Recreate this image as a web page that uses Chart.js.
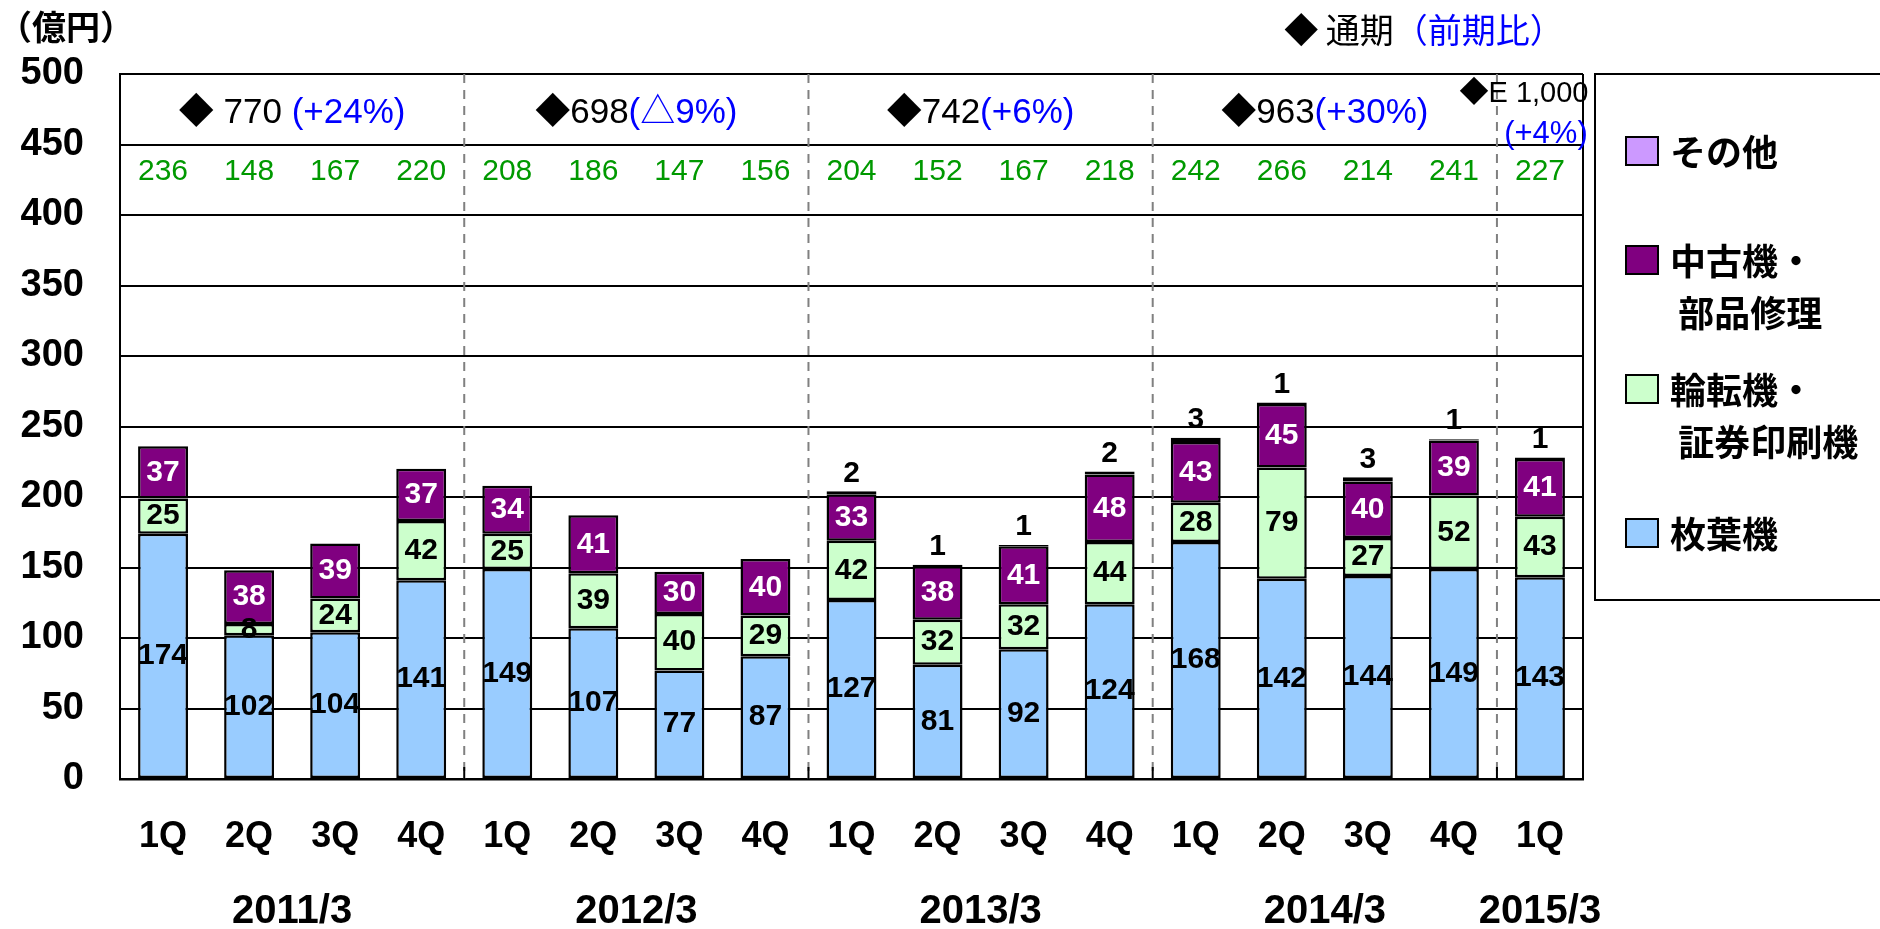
<!DOCTYPE html>
<html lang="ja">
<head>
<meta charset="utf-8">
<title>売上高推移</title>
<script src="https://cdn.jsdelivr.net/npm/chart.js@4.4.1/dist/chart.umd.min.js"></script>
<style>
    html, body { margin: 0; padding: 0; background: #fff; }
    #wrap { width: 1880px; height: 929px; position: relative; }
</style>
</head>
<body>
<div id="wrap"><canvas id="salesChart"></canvas></div>
<script>
// ============================================
// DATA
// ============================================
const quarterLabels = ['1Q', '2Q', '3Q', '4Q', '1Q', '2Q', '3Q', '4Q', '1Q', '2Q', '3Q', '4Q', '1Q', '2Q', '3Q', '4Q', '1Q'];
const fiscalYears = ['2011/3', '2012/3', '2013/3', '2014/3', '2015/3'];
const quartersPerYear = [4, 4, 4, 4, 1];

const sheetFed = [174, 102, 104, 141, 149, 107, 77, 87, 127, 81, 92, 124, 168, 142, 144, 149, 143];
const webPress = [25, 8, 24, 42, 25, 39, 40, 29, 42, 32, 32, 44, 28, 79, 27, 52, 43];
const usedParts = [37, 38, 39, 37, 34, 41, 30, 40, 33, 38, 41, 48, 43, 45, 40, 39, 41];
const others = [0, 0, 0, 0, 0, 0, 0, 0, 2, 1, 1, 2, 3, 1, 3, 1, 1];

const quarterTotals = [236, 148, 167, 220, 208, 186, 147, 156, 204, 152, 167, 218, 242, 266, 214, 241, 227];
const annualTotals = [' 770 ', '698', '742', '963', 'E 1,000'];
const annualChange = ['(+24%)', '(△9%)', '(+6%)', '(+30%)', '(+4%)'];

const yMin = 0, yMax = 500, yStep = 50;

const seriesNames = [['枚葉機'], ['輪転機・', ' 証券印刷機'], ['中古機・', ' 部品修理'], ['その他']];

// ============================================
// STYLE
// ============================================
const FONT = '"Liberation Sans", "Noto Sans CJK JP", sans-serif';
const JP_FONT = '"Noto Sans CJK JP", "Liberation Sans", sans-serif';
const BLUE = '#0000ff';
const GREEN = '#009900';

function groupRanges() {
    let start = 0;
    return quartersPerYear.map(n => {
        const r = { from: start, to: start + n - 1 };
        start += n;
        return r;
    });
}

// draw text pieces of different colours side by side, centred on cx
function drawRuns(ctx, runs, cx, cy) {
    const widths = runs.map(r => { ctx.font = r.font; return ctx.measureText(r.text).width; });
    let xPos = cx - widths.reduce((a, b) => a + b, 0) / 2;
    ctx.textAlign = 'left';
    ctx.textBaseline = 'middle';
    runs.forEach((r, i) => {
        ctx.font = r.font;
        ctx.fillStyle = r.color;
        ctx.fillText(r.text, xPos, cy);
        xPos += widths[i];
    });
}

// ============================================
// PLUGIN: separators, labels, legend
// ============================================
const overlayPlugin = {
    id: 'overlay',
    beforeDatasetsDraw(chart) {
        const { ctx, chartArea: area, scales: { x } } = chart;
        ctx.save();
        groupRanges().slice(0, -1).forEach(r => {
            const bx = (x.getPixelForValue(r.to) + x.getPixelForValue(r.to + 1)) / 2;
            ctx.strokeStyle = '#808080';
            ctx.lineWidth = 2;
            ctx.setLineDash([9, 7]);
            ctx.beginPath();
            ctx.moveTo(bx, area.top);
            ctx.lineTo(bx, area.bottom);
            ctx.stroke();
            ctx.setLineDash([]);
            ctx.strokeStyle = '#000';
            ctx.beginPath();
            ctx.moveTo(bx, area.bottom - 12);
            ctx.lineTo(bx, area.bottom);
            ctx.stroke();
        });
        ctx.restore();
    },
    afterDatasetsDraw(chart) {
        const ctx = chart.ctx;
        ctx.save();
        ctx.font = 'bold 30px ' + FONT;
        ctx.textAlign = 'center';
        ctx.textBaseline = 'middle';
        chart.data.datasets.forEach((ds, i) => {
            const meta = chart.getDatasetMeta(i);
            meta.data.forEach((bar, j) => {
                const v = ds.data[j];
                if (!v) return;
                ctx.fillStyle = ds.labelColor;
                if (ds.labelAbove) {
                    ctx.fillText(String(v), bar.x, bar.y - 18);
                } else {
                    ctx.fillText(String(v), bar.x, (bar.y + bar.base) / 2);
                }
            });
        });
        ctx.restore();
    },
    afterDraw(chart) {
        const { ctx, chartArea: area, scales: { x, y } } = chart;
        ctx.save();

        // right border of plot
        ctx.strokeStyle = '#000';
        ctx.lineWidth = 2;
        ctx.beginPath();
        ctx.moveTo(area.right, area.top);
        ctx.lineTo(area.right, area.bottom);
        ctx.stroke();

        // quarterly totals
        ctx.font = '30px ' + FONT;
        ctx.fillStyle = GREEN;
        ctx.textAlign = 'center';
        ctx.textBaseline = 'middle';
        quarterTotals.forEach((t, i) => {
            ctx.fillText(String(t), x.getPixelForValue(i), y.getPixelForValue(431));
        });

        // annual totals, fiscal year labels
        groupRanges().forEach((r, g) => {
            const cx = (x.getPixelForValue(r.from) + x.getPixelForValue(r.to)) / 2;
            if (r.to > r.from) {
                drawRuns(ctx, [
                    { text: '◆' + annualTotals[g], font: '35px ' + FONT, color: '#000' },
                    { text: annualChange[g], font: '35px ' + FONT, color: BLUE }
                ], cx, y.getPixelForValue(472));
            } else {
                drawRuns(ctx, [{ text: '◆' + annualTotals[g], font: '29px ' + FONT, color: '#000' }],
                    cx - 16, y.getPixelForValue(486));
                drawRuns(ctx, [{ text: annualChange[g], font: '31px ' + FONT, color: BLUE }],
                    cx + 6, y.getPixelForValue(457));
            }
            ctx.font = 'bold 40px ' + FONT;
            ctx.fillStyle = '#000';
            ctx.textAlign = 'center';
            ctx.fillText(fiscalYears[g], cx, 912);
        });

        // title and unit
        drawRuns(ctx, [
            { text: '◆ 通期', font: '34px ' + JP_FONT, color: '#000' },
            { text: '（前期比）', font: '34px ' + JP_FONT, color: BLUE }
        ], 1424, 30);
        ctx.font = 'bold 34px ' + JP_FONT;
        ctx.fillStyle = '#000';
        ctx.textAlign = 'left';
        ctx.fillText('（億円）', -2, 27);

        // legend
        ctx.strokeStyle = '#000';
        ctx.lineWidth = 2;
        ctx.strokeRect(1595, 74, 300, 526);
        const rowY = [152, 261, 390, 534];
        const order = chart.data.datasets.map((d, i) => i).reverse();
        order.forEach((di, k) => {
            const ds = chart.data.datasets[di];
            const ly = rowY[k];
            ctx.fillStyle = ds.backgroundColor;
            ctx.fillRect(1626, ly - 15, 32, 28);
            ctx.strokeRect(1626, ly - 15, 32, 28);
            ctx.font = 'bold 36px ' + JP_FONT;
            ctx.fillStyle = '#000';
            ctx.textAlign = 'left';
            ctx.textBaseline = 'middle';
            ds.legendLines.forEach((line, li) => {
                ctx.fillText(line, 1670, ly + li * 52);
            });
        });
        ctx.restore();
    }
};

// ============================================
// CHART
// ============================================
function makeDataset(idx, data, bg, labelColor, labelAbove) {
    return {
        label: seriesNames[idx].join('').replace(' ', ''),
        legendLines: seriesNames[idx],
        data: data,
        backgroundColor: bg,
        borderColor: '#000',
        borderWidth: 2.5,
        borderSkipped: false,
        labelColor: labelColor,
        labelAbove: labelAbove
    };
}

new Chart(document.getElementById('salesChart'), {
    type: 'bar',
    data: {
        labels: quarterLabels,
        datasets: [
            makeDataset(0, sheetFed, '#99ccff', '#000', false),
            makeDataset(1, webPress, '#ccffcc', '#000', false),
            makeDataset(2, usedParts, '#800080', '#fff', false),
            makeDataset(3, others, '#cc99ff', '#000', true)
        ]
    },
    options: {
        responsive: true,
        maintainAspectRatio: false,
        animation: false,
        barPercentage: 0.58,
        categoryPercentage: 1.0,
        layout: { padding: { top: 74, right: 297, bottom: 0, left: 0 } },
        plugins: {
            legend: { display: false },
            tooltip: { enabled: false }
        },
        scales: {
            x: {
                stacked: true,
                grid: { display: false, drawTicks: false },
                border: { color: '#000', width: 2.5 },
                ticks: {
                    color: '#000',
                    padding: 36,
                    maxRotation: 0,
                    autoSkip: false,
                    font: { family: FONT, size: 36, weight: 'bold' }
                },
                afterFit(scale) { scale.height = 150; }
            },
            y: {
                stacked: true,
                min: yMin,
                max: yMax,
                grid: { color: '#000', lineWidth: 2, drawTicks: false },
                border: { color: '#000', width: 2 },
                ticks: {
                    stepSize: yStep,
                    color: '#000',
                    padding: 36,
                    font: { family: FONT, size: 38, weight: 'bold' }
                },
                afterFit(scale) { scale.width = 120; }
            }
        }
    },
    plugins: [overlayPlugin]
});
</script>
</body>
</html>
